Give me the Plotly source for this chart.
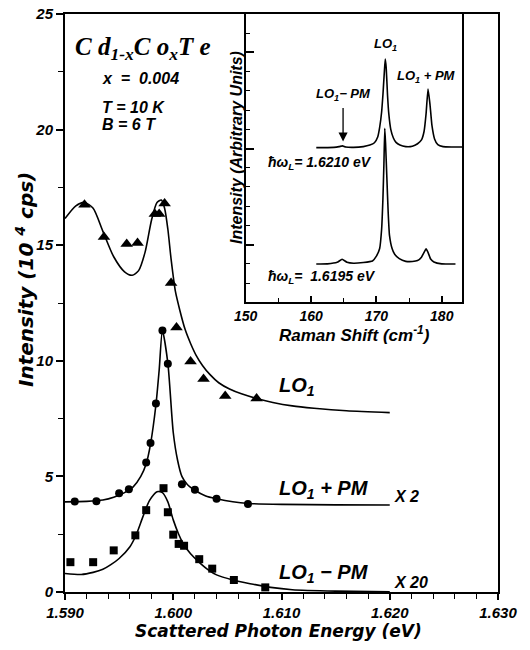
import plotly.graph_objects as go

# ---------------- main panel data (10^4 cps) ----------------
lo1_pts_x = [1.5918, 1.5936, 1.5957, 1.5967, 1.5983, 1.5987, 1.5992, 1.5998,
             1.6003, 1.6016, 1.6028, 1.6048, 1.6077]
lo1_pts_y = [16.75, 15.35, 15.05, 15.10, 16.35, 16.35, 16.80, 13.36,
             11.44, 9.97, 9.21, 8.48, 8.37]

lo1pm_pts_x = [1.5909, 1.5929, 1.5950, 1.5959, 1.5975, 1.5979, 1.5984, 1.5990,
               1.5995, 1.6008, 1.6020, 1.6040, 1.6069]
lo1pm_pts_y = [3.91, 3.92, 4.27, 4.44, 5.60, 6.44, 8.15, 11.31,
               9.87, 4.66, 4.42, 4.03, 3.81]

lo1mpm_pts_x = [1.5905, 1.5926, 1.5945, 1.5965, 1.5975, 1.5991, 1.5995, 1.6000,
                1.6005, 1.6010, 1.6024, 1.6036, 1.6056, 1.6085]
lo1mpm_pts_y = [1.29, 1.29, 1.80, 2.45, 3.54, 4.49, 3.45, 2.48,
                2.08, 2.00, 1.42, 1.01, 0.52, 0.20]

# fitted curves
lo1_fit_x = [1.5900, 1.5910, 1.5918, 1.5926, 1.5935, 1.5945, 1.5955, 1.5962, 1.5968,
             1.5974, 1.5980, 1.5985, 1.5989, 1.5992, 1.5995, 1.5998, 1.6002, 1.6006,
             1.6011, 1.6016, 1.6021, 1.6027, 1.6034, 1.6042, 1.6052, 1.6063, 1.6077,
             1.6092, 1.6110, 1.6130, 1.6160, 1.6200]
lo1_fit_y = [16.15, 16.70, 16.85, 16.60, 15.60, 14.50, 13.85, 13.70, 13.90,
             14.70, 16.10, 16.85, 16.95, 16.60, 15.70, 14.40, 13.00, 12.20,
             11.35, 10.75, 10.25, 9.80, 9.40, 9.05, 8.78, 8.57, 8.37,
             8.20, 8.05, 7.95, 7.84, 7.76]

lo1pm_fit_x = [1.5900, 1.5920, 1.5935, 1.5945, 1.5955, 1.5963, 1.5970, 1.5975, 1.5979,
               1.5984, 1.5987, 1.5990, 1.5995, 1.6000, 1.6004, 1.6008, 1.6013, 1.6020,
               1.6030, 1.6040, 1.6055, 1.6070, 1.6100, 1.6150, 1.6200]
lo1pm_fit_y = [3.90, 3.92, 3.98, 4.10, 4.30, 4.55, 5.00, 5.55, 6.40,
               8.10, 9.60, 11.30, 9.90, 6.90, 5.70, 5.00, 4.65, 4.40,
               4.15, 4.03, 3.90, 3.83, 3.79, 3.77, 3.76]

lo1mpm_fit_x = [1.5900, 1.5915, 1.5926, 1.5935, 1.5942, 1.5950, 1.5960, 1.5966, 1.5972,
                1.5978, 1.5985, 1.5990, 1.5995, 1.6000, 1.6005, 1.6009, 1.6016, 1.6025,
                1.6032, 1.6040, 1.6055, 1.6071, 1.6090, 1.6110, 1.6150, 1.6200]
lo1mpm_fit_y = [0.80, 0.76, 0.85, 0.98, 1.17, 1.45, 1.96, 2.50, 3.26,
                3.95, 4.34, 4.30, 3.90, 3.12, 2.50, 2.11, 1.65, 1.24,
                0.97, 0.74, 0.52, 0.36, 0.20, 0.10, 0.04, 0.01]

# ---------------- inset data (arbitrary units) ----------------
raman_up_x = [160.8, 162.0, 163.5, 164.3, 164.8, 165.3, 166.5, 168.0, 169.0, 169.7,
              170.2, 170.5, 170.8, 171.0, 171.2, 171.35, 171.5, 171.7, 171.9, 172.2,
              172.6, 173.0, 173.6, 174.5, 175.5, 176.3, 176.9, 177.3, 177.6, 177.9,
              178.2, 178.5, 178.9, 179.4, 180.2, 181.5, 183.1]
raman_up_y = [8.05, 8.05, 8.06, 8.10, 8.14, 8.08, 8.06, 8.10, 8.18, 8.30,
              8.60, 9.10, 9.90, 10.80, 11.90, 12.65, 12.20, 10.80, 9.80, 9.00,
              8.55, 8.32, 8.18, 8.10, 8.12, 8.25, 8.45, 8.90, 9.80, 11.10,
              10.30, 9.20, 8.50, 8.20, 8.10, 8.08, 8.08]

raman_lo_x = [160.8, 162.5, 164.0, 164.75, 165.5, 166.5, 168.0, 169.4, 170.0, 170.5,
              170.8, 171.0, 171.15, 171.28, 171.4, 171.6, 171.8, 172.0, 172.4, 172.8,
              173.5, 174.5, 175.5, 176.3, 176.9, 177.3, 177.6, 177.9, 178.3, 178.8,
              180.0, 182.1]
raman_lo_y = [1.99, 2.00, 2.08, 2.24, 2.08, 2.03, 2.07, 2.15, 2.40, 2.80,
              3.80, 5.40, 7.20, 9.05, 8.30, 6.50, 4.70, 3.50, 2.80, 2.50,
              2.27, 2.13, 2.12, 2.17, 2.35, 2.60, 2.78, 2.60, 2.25, 2.10,
              2.00, 1.99]

x_ticks = [1.590, 1.600, 1.610, 1.620, 1.630]
x_tick_labels = ["1.590", "1.600", "1.610", "1.620", "1.630"]
y_ticks = [0, 5, 10, 15, 20, 25]
y_tick_labels = ["0", "5", "10", "15", "20", "25"]
inset_x_ticks = [150, 160, 170, 180]
inset_x_tick_labels = ["150", "160", "170", "180"]

SANS = "Liberation Sans"
WIDE = "DejaVu Sans"
SERIF = "Liberation Serif"


def bi(s):
    return "<b><i>" + s + "</i></b>"


fig = go.Figure()

line_style = dict(color="black", width=1.6)
for fx, fy in [(lo1_fit_x, lo1_fit_y), (lo1pm_fit_x, lo1pm_fit_y), (lo1mpm_fit_x, lo1mpm_fit_y)]:
    fig.add_trace(go.Scatter(x=fx, y=fy, mode="lines",
                             line=dict(shape="spline", smoothing=0.7, **line_style),
                             hoverinfo="skip", showlegend=False))

fig.add_trace(go.Scatter(x=lo1_pts_x, y=lo1_pts_y, mode="markers",
                         marker=dict(symbol="triangle-up", size=11, color="black"), showlegend=False))
fig.add_trace(go.Scatter(x=lo1pm_pts_x, y=lo1pm_pts_y, mode="markers",
                         marker=dict(symbol="circle", size=8, color="black"), showlegend=False))
fig.add_trace(go.Scatter(x=lo1mpm_pts_x, y=lo1mpm_pts_y, mode="markers",
                         marker=dict(symbol="square", size=8, color="black"), showlegend=False))

# inset traces
for rx, ry in [(raman_up_x, raman_up_y), (raman_lo_x, raman_lo_y)]:
    fig.add_trace(go.Scatter(x=rx, y=ry, mode="lines", xaxis="x2", yaxis="y2",
                             line=dict(color="black", width=1.6, shape="spline", smoothing=0.4),
                             hoverinfo="skip", showlegend=False))

L, R, T, B = 65, 32, 14, 58
W, H = 530, 650
pw, ph = W - L - R, H - T - B


def pxx(px):
    return (px - L) / pw


def pxy(py):
    return (H - B - py) / ph


tickfont_main = dict(family=SANS, size=15, color="black")
fig.update_layout(
    width=W, height=H,
    margin=dict(l=L, r=R, t=T, b=B, autoexpand=False),
    paper_bgcolor="white", plot_bgcolor="white",
    showlegend=False,
    xaxis=dict(range=[1.590, 1.630], tickvals=x_ticks, ticktext=[bi(t) for t in x_tick_labels],
               ticks="outside", ticklen=6, tickwidth=1.5, tickcolor="black",
               minor=dict(dtick=0.002, tick0=1.590, ticks="outside", ticklen=5, tickwidth=1.2,
                          tickcolor="black"),
               showline=True, linecolor="black", linewidth=2, mirror=True, automargin=False,
               showgrid=False, zeroline=False, tickfont=tickfont_main),
    yaxis=dict(range=[0, 25], tickvals=y_ticks, ticktext=[bi(t) for t in y_tick_labels],
               ticks="outside", ticklen=7, tickwidth=1.5, tickcolor="black",
               minor=dict(dtick=2.5, tick0=0, ticks="outside", ticklen=5, tickwidth=1.2,
                          tickcolor="black"),
               showline=True, linecolor="black", linewidth=2, mirror=True, automargin=False,
               showgrid=False, zeroline=False, tickfont=tickfont_main),
    xaxis2=dict(domain=[pxx(245.7), pxx(462)], anchor="y2", range=[150, 183.1],
                tickvals=inset_x_ticks, ticktext=[bi(t) for t in inset_x_tick_labels],
                ticks="inside", ticklen=6, tickwidth=1.5, tickcolor="black",
                minor=dict(dtick=5, tick0=150, ticks="inside", ticklen=4, tickwidth=1.2,
                           tickcolor="black"),
                showline=True, linecolor="black", linewidth=2, mirror=True, automargin=False,
                showgrid=False, zeroline=False, tickfont=dict(family=SANS, size=14, color="black")),
    yaxis2=dict(domain=[pxy(302.3), 1.0], anchor="x2", range=[0, 15],
                tick0=3, dtick=5, ticks="inside", ticklen=8, tickwidth=1.5, tickcolor="black",
                minor=dict(dtick=1, tick0=0, ticks="inside", ticklen=4, tickwidth=1.2,
                           tickcolor="black"),
                showticklabels=False, automargin=False,
                showline=True, linecolor="black", linewidth=2, mirror=True,
                showgrid=False, zeroline=False),
)

ann = []


def txt(text, x, y, size, xanchor="left", xref="paper", yref="paper", family=SANS, textangle=0):
    ann.append(dict(text=bi(text), x=x, y=y, xref=xref, yref=yref, xanchor=xanchor, yanchor="middle",
                    showarrow=False, font=dict(family=family, size=size, color="black"),
                    textangle=textangle))


# axis titles
txt("Scattered Photon Energy (eV)", pxx(278), pxy(631), 17, xanchor="center", family=WIDE)
txt("Intensity (10 <sup>4</sup> cps)", pxx(25), pxy(280), 20, xanchor="center", textangle=-90, family=WIDE)
txt("Raman Shift (cm<sup>-1</sup>)", pxx(354), pxy(334), 17, xanchor="center")
txt("Intensity (Arbitrary Units)", pxx(236), pxy(148), 16, xanchor="center", textangle=-90)

# sample info
txt("C d<sub>1-x</sub>C o<sub>x</sub>T e", pxx(73), pxy(48), 25, family=SERIF)
txt("x  =  0.004", pxx(100), pxy(78), 16)
txt("T = 10 K", pxx(100), pxy(107), 16)
txt("B = 6 T", pxx(100), pxy(124), 16)

# main curve labels (data coords)
txt("LO<sub>1</sub>", 1.60958, 8.87, 20, xref="x", yref="y")
txt("LO<sub>1</sub> + PM", 1.60958, 4.42, 20, xref="x", yref="y")
txt("X 2", 1.62021, 4.15, 16, xref="x", yref="y")
txt("LO<sub>1</sub> − PM", 1.60958, 0.82, 20, xref="x", yref="y")
txt("X 20", 1.62021, 0.39, 16, xref="x", yref="y")

# inset labels
txt("LO<sub>1</sub>", 171.45, 13.39, 13, xanchor="center", xref="x2", yref="y2")
txt("LO<sub>1</sub> + PM", 177.6, 11.77, 13, xanchor="center", xref="x2", yref="y2")
txt("LO<sub>1</sub>− PM", 164.95, 10.79, 13, xanchor="center", xref="x2", yref="y2")
txt("ħω<sub>L</sub>= 1.6210 eV", 153.1, 7.25, 14, xref="x2", yref="y2")
txt("ħω<sub>L</sub>=  1.6195 eV", 153.1, 1.33, 14, xref="x2", yref="y2")

ann.append(dict(text="", x=164.9, y=8.36, xref="x2", yref="y2", showarrow=True,
                ax=0, ay=-35, arrowhead=2, arrowsize=1.4, arrowwidth=1.3, arrowcolor="black"))

fig.update_layout(annotations=ann)

fig.write_html("out.html", config={"displayModeBar": False},
               post_script="document.body.style.margin='0px';document.body.style.overflow='hidden';")
